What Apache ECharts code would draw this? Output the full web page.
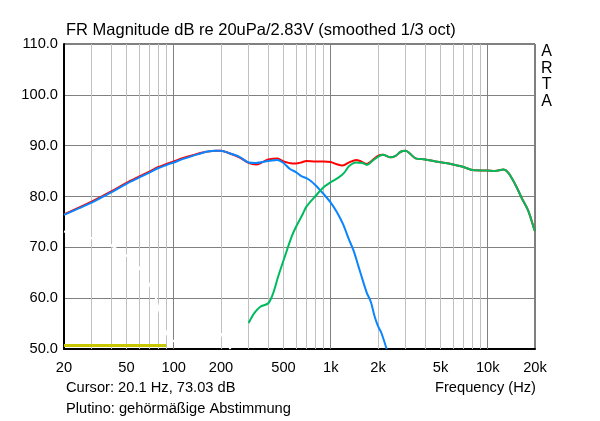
<!DOCTYPE html>
<html>
<head>
<meta charset="utf-8">
<script src="https://cdn.jsdelivr.net/npm/echarts@6/dist/echarts.min.js"></script>
<style>html,body{margin:0;padding:0;background:#fff}#c{width:600px;height:421px}</style>
</head>
<body>
<div id="c"></div>
<script>
// ---- data ----
const xTickLabels = [20, 50, 100, 200, 500, 1000, 2000, 5000, 10000, 20000];
const majorGridF = [100, 1000, 10000];
const minorGridF = [30, 40, 50, 60, 70, 80, 90, 200, 300, 400, 500, 600, 700, 800, 900,
  2000, 3000, 4000, 5000, 6000, 7000, 8000, 9000];

const sumF  = [20, 30, 40, 50, 60, 70, 80, 90, 100, 115, 132, 150, 161, 186, 200, 226, 262, 300, 334, 370, 400, 458, 500, 570, 600, 650, 700, 800, 900, 1000, 1080, 1190, 1310, 1450, 1560, 1700, 1840, 2000, 2150, 2410, 2590, 2790, 3000, 3230, 3470, 4000, 4650, 5390, 6000, 7000, 8000, 10000, 11100, 12600, 13500, 14900, 16400, 18100, 19800, 20000];
const sumDb = [76.5, 79.0, 81.0, 82.7, 83.9, 84.9, 85.8, 86.4, 86.9, 87.6, 88.1, 88.6, 88.8, 89.0, 89.0, 88.5, 87.7, 86.6, 86.3, 86.8, 87.3, 87.5, 86.9, 86.5, 86.5, 86.7, 87.0, 86.9, 86.9, 86.8, 86.4, 86.1, 86.7, 87.2, 86.9, 86.4, 87.1, 88.0, 88.2, 87.7, 88.0, 88.8, 89.0, 88.3, 87.5, 87.3, 86.9, 86.6, 86.3, 85.8, 85.2, 85.1, 85.0, 85.3, 84.7, 82.5, 79.8, 77.2, 73.5, 73.2];

const wooferF  = [20, 25, 30, 35, 40, 50, 60, 70, 80, 90, 100, 115, 132, 150, 161, 186, 200, 226, 262, 300, 334, 400, 458, 500, 550, 600, 650, 700, 750, 800, 870, 900, 1000, 1100, 1200, 1300, 1400, 1500, 1600, 1700, 1800, 1900, 2000, 2100, 2270];
const wooferDb = [76.4, 77.7, 78.8, 79.9, 80.8, 82.5, 83.7, 84.7, 85.6, 86.2, 86.7, 87.4, 88.0, 88.5, 88.8, 89.0, 89.0, 88.5, 87.8, 86.7, 86.6, 87.0, 87.2, 86.6, 85.4, 84.8, 84.0, 83.6, 83.0, 82.2, 81.0, 80.5, 78.8, 76.8, 74.5, 71.7, 69.3, 66.3, 63.5, 61.0, 59.3, 56.5, 54.5, 53.2, 50.0];

const tweeterF  = [300, 325, 356, 400, 430, 462, 509, 562, 600, 665, 700, 800, 900, 1000, 1130, 1220, 1310, 1450, 1590, 1700, 1840, 2000, 2150, 2410, 2590, 2790, 3000, 3230, 3470, 4000, 4650, 5390, 6000, 7000, 8000, 10000, 11100, 12600, 13500, 14900, 16400, 18100, 19800, 20000];
const tweeterDb = [55.1, 57.0, 58.3, 59.0, 61.0, 64.2, 68.1, 72.0, 74.0, 76.6, 78.0, 80.1, 81.8, 82.8, 83.8, 84.7, 86.0, 86.7, 86.6, 86.2, 87.0, 87.8, 88.2, 87.7, 88.0, 88.8, 89.0, 88.3, 87.5, 87.3, 86.9, 86.6, 86.3, 85.8, 85.2, 85.1, 85.0, 85.3, 84.7, 82.5, 79.8, 77.2, 73.5, 73.2];

const yellowF  = [20, 89.5];
const yellowDb = [50.7, 50.7];

const whiteF  = [20, 30, 40, 50, 60, 70, 77, 80, 90, 100, 150, 200, 230];
const whiteDb = [73.1, 71.8, 70.4, 68.4, 66.1, 62.7, 60.0, 58.0, 53.0, 51.5, 52.2, 53.0, 50.0];

const zip = (a, b) => a.map((v, i) => [v, b[i]]);
const FONT = '"Liberation Sans", Arial, sans-serif';
const SMALL = 14.67;

const chart = echarts.init(document.getElementById('c'), null, {renderer: 'canvas'});
chart.setOption({
  animation: false,
  backgroundColor: '#fff',
  grid: {left: 64, right: 65, top: 44, bottom: 72, show: true, borderColor: '#000', borderWidth: 1, backgroundColor: 'transparent'},
  xAxis: {
    type: 'log', logBase: 10, min: 20, max: 20000,
    axisLine: {show: true, onZero: false, lineStyle: {color: '#000', width: 2}},
    axisTick: {show: false},
    splitLine: {show: false},
    minorTick: {show: false}, minorSplitLine: {show: false},
    axisLabel: {
      customValues: xTickLabels,
      margin: 11, color: '#000', fontSize: SMALL, fontFamily: FONT,
      formatter: v => v >= 1000 ? (Math.round(v / 1000) + 'k') : String(Math.round(v))
    }
  },
  yAxis: {
    type: 'value', min: 50, max: 110, interval: 10,
    axisLine: {show: true, lineStyle: {color: '#000', width: 2}},
    axisTick: {show: false},
    splitLine: {show: true, lineStyle: {color: '#808080', width: 1}},
    axisLabel: {margin: 6, color: '#000', fontSize: SMALL, fontFamily: FONT, formatter: v => v.toFixed(1)}
  },
  graphic: [
    {type: 'text', x: 66, y: 30, style: {text: 'FR Magnitude dB re 20uPa/2.83V (smoothed 1/3 oct)', fontSize: 16.5, fontFamily: FONT, fill: '#000', align: 'left', verticalAlign: 'middle'}},
    {type: 'text', x: 66, y: 388, style: {text: 'Cursor: 20.1 Hz, 73.03 dB', fontSize: SMALL, fontFamily: FONT, fill: '#000', align: 'left', verticalAlign: 'middle'}},
    {type: 'text', x: 536, y: 388, style: {text: 'Frequency (Hz)', fontSize: SMALL, fontFamily: FONT, fill: '#000', align: 'right', verticalAlign: 'middle'}},
    {type: 'text', x: 66, y: 409, style: {text: 'Plutino: gehörmäßige Abstimmung', fontSize: SMALL, fontFamily: FONT, fill: '#000', align: 'left', verticalAlign: 'middle'}},
    {type: 'text', x: 546.7, y: 52, style: {text: 'A', fontSize: 16, fontFamily: FONT, fill: '#000', align: 'center', verticalAlign: 'middle'}},
    {type: 'text', x: 546.7, y: 68.5, style: {text: 'R', fontSize: 16, fontFamily: FONT, fill: '#000', align: 'center', verticalAlign: 'middle'}},
    {type: 'text', x: 546.7, y: 85, style: {text: 'T', fontSize: 16, fontFamily: FONT, fill: '#000', align: 'center', verticalAlign: 'middle'}},
    {type: 'text', x: 546.7, y: 101.5, style: {text: 'A', fontSize: 16, fontFamily: FONT, fill: '#000', align: 'center', verticalAlign: 'middle'}}
  ],
  series: [
    {
      type: 'line', data: [], silent: true,
      markLine: {
        silent: true, symbol: 'none', z: 1, label: {show: false},
        data: minorGridF.map(f => ({xAxis: f, lineStyle: {color: '#c0c0c0', width: 1, type: 'solid'}}))
          .concat(majorGridF.map(f => ({xAxis: f, lineStyle: {color: '#808080', width: 1, type: 'solid'}})))
      }
    },
    {type: 'line', data: zip(whiteF, whiteDb), showSymbol: false, lineStyle: {color: '#ffffff', width: 2}, z: 2},
    {type: 'line', data: zip(yellowF, yellowDb), showSymbol: false, lineStyle: {color: '#c8c800', width: 3}, z: 3},
    {type: 'line', data: zip(sumF, sumDb), showSymbol: false, smooth: 0.3, lineStyle: {color: '#ff0000', width: 2}, z: 4},
    {type: 'line', data: zip(wooferF, wooferDb), showSymbol: false, smooth: 0.3, lineStyle: {color: '#0a84ff', width: 2}, z: 5},
    {type: 'line', data: zip(tweeterF, tweeterDb), showSymbol: false, smooth: 0.3, lineStyle: {color: '#00bb5e', width: 2}, z: 6}
  ]
});
</script>
</body>
</html>
